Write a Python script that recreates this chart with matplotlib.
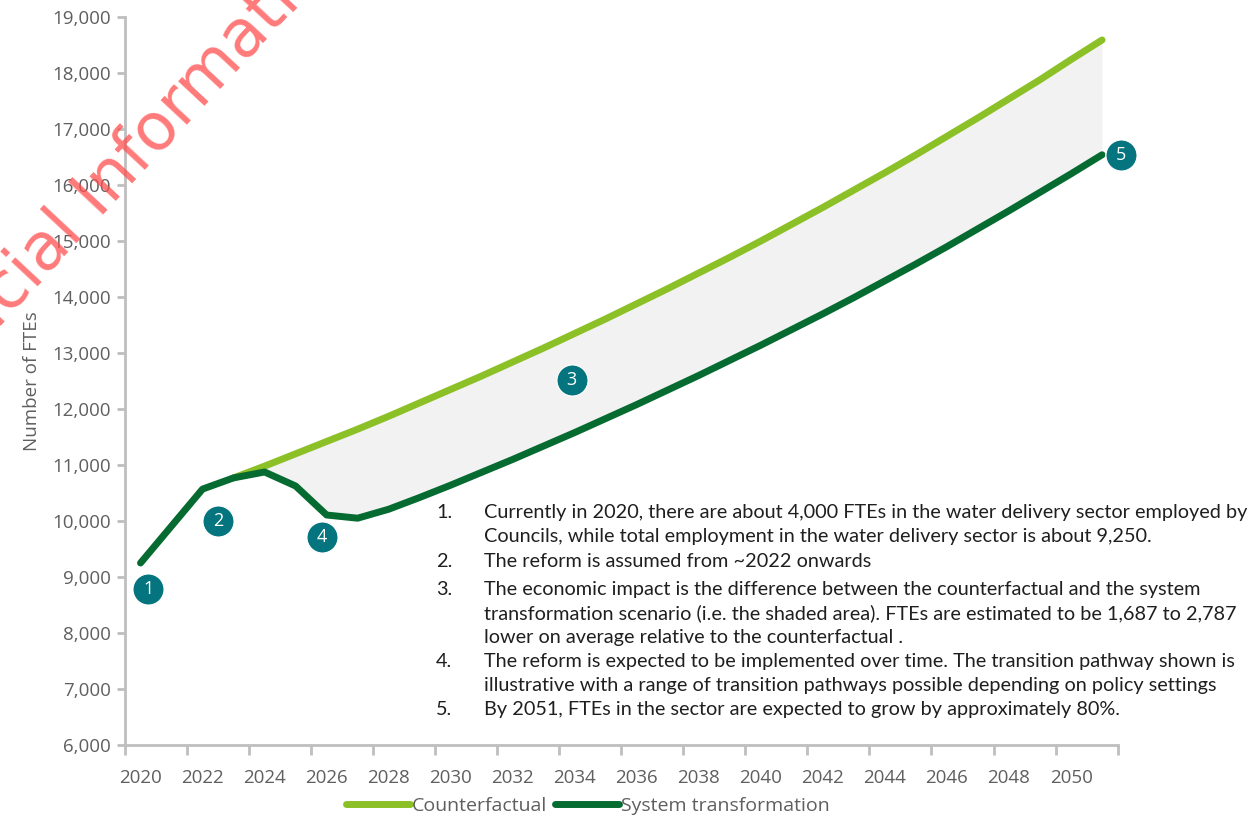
import numpy as np
import matplotlib
matplotlib.use("Agg")
from matplotlib import pyplot as plt
from matplotlib.ticker import FuncFormatter, FixedLocator

# --- data ---
sys_years = list(range(2020, 2052))
sys_fte = [9250, 9910, 10570, 10770, 10875, 10625, 10107, 10050, 10210,
           10420, 10640, 10870, 11100, 11340, 11580, 11830, 12080, 12340,
           12600, 12870, 13140, 13420, 13700, 13990, 14290, 14590, 14900,
           15220, 15540, 15870, 16200, 16540]

cf_years = list(range(2023, 2052))
cf_fte = [10770, 10980, 11200, 11420, 11640, 11870, 12110, 12350, 12590,
          12840, 13090, 13350, 13610, 13880, 14150, 14430, 14710, 15000,
          15300, 15600, 15910, 16220, 16540, 16870, 17200, 17540, 17880,
          18240, 18590]

marker_labels = ["1", "2", "3", "4", "5"]
marker_x = [2020.25, 2022.5, 2033.9, 2025.85, 2051.6]
marker_y = [8790, 10000, 12520, 9715, 16540]

note_nums = ["1.", "", "2.", "3.", "", "", "4.", "", "5."]
note_lines = [
    "Currently in 2020, there are about 4,000 FTEs in the water delivery sector employed by",
    "Councils, while total employment in the water delivery sector is about 9,250.",
    "The reform is assumed from ~2022 onwards",
    "The economic impact is the difference between the counterfactual and the system",
    "transformation scenario (i.e. the shaded area). FTEs are estimated to be 1,687 to 2,787",
    "lower on average relative to the counterfactual .",
    "The reform is expected to be implemented over time. The transition pathway shown is",
    "illustrative with a range of transition pathways possible depending on policy settings",
    "By 2051, FTEs in the sector are expected to grow by approximately 80%.",
]
note_px_y = [518, 542, 567, 595, 619, 643, 667, 691, 715]  # baselines

LIGHT = "#8CC027"
DARK = "#066B30"
TEAL = "#04757E"
GREY = "#5F5F5F"
SPINE = "#BFBFBF"

W, H = 1259, 816
plt.rcParams["font.family"] = ["Open Sans", "DejaVu Sans"]
fig = plt.figure(figsize=(W / 100, H / 100), dpi=100)
ax = fig.add_axes([125 / W, 1 - 745 / H, (1117.6 - 125) / W, (745 - 17) / H])

# shaded gap between the scenarios
sys_on_cf = [sys_fte[sys_years.index(y)] for y in cf_years]
ax.fill_between(cf_years, sys_on_cf, cf_fte, color="#F2F2F2", lw=0, zorder=1)

ax.plot(cf_years, cf_fte, color=LIGHT, lw=5, solid_capstyle="round",
        solid_joinstyle="round", label="Counterfactual", zorder=3)
ax.plot(sys_years, sys_fte, color=DARK, lw=5, solid_capstyle="round",
        solid_joinstyle="round", label="System transformation", zorder=4)

ax.scatter(marker_x, marker_y, s=500, color=TEAL, zorder=6, clip_on=False,
           edgecolors="white", linewidths=0.8)
for lab, mx, my in zip(marker_labels, marker_x, marker_y):
    ax.text(mx, my, lab, color="white", fontsize=13, ha="center",
            va="center", zorder=7, clip_on=False)

ax.set_xlim(2019.5, 2051.5)
ax.set_ylim(6000, 19000)

ax.set_yticks(np.arange(6000, 19001, 1000))
ax.yaxis.set_major_formatter(FuncFormatter(lambda v, p: f"{int(v):,}"))
ax.tick_params(axis="y", colors=SPINE, labelcolor=GREY, labelsize=13.5,
               length=6, width=2, pad=4)

ax.xaxis.set_major_locator(FixedLocator(range(2020, 2051, 2)))
ax.xaxis.set_minor_locator(FixedLocator(np.arange(2019.5, 2052, 2)))
ax.tick_params(axis="x", which="major", length=0, labelcolor=GREY,
               labelsize=13.5, pad=17)
ax.tick_params(axis="x", which="minor", length=7, width=2, color=SPINE)

for s in ["top", "right"]:
    ax.spines[s].set_visible(False)
for s in ["left", "bottom"]:
    ax.spines[s].set_color(SPINE)
    ax.spines[s].set_linewidth(2)

ax.set_ylabel("Number of FTEs", color=GREY, fontsize=13.5, labelpad=8)

fig.legend(loc="lower center", bbox_to_anchor=(588 / W, -0.02), ncol=2,
           frameon=False, fontsize=14, handlelength=3.3, handletextpad=0.1,
           columnspacing=0.4, labelcolor=GREY)

for num, line, py in zip(note_nums, note_lines, note_px_y):
    fig.text(436 / W, 1 - py / H, num, fontsize=14.3, color="#1F1F1F",
             va="baseline", family=["Lato", "DejaVu Sans"])
    fig.text(484 / W, 1 - py / H, line, fontsize=14.3, color="#1F1F1F",
             va="baseline", family=["Lato", "DejaVu Sans"])

# watermark, cut by the figure edge as in the source
fig.text(-70 / W, 1 - 400 / H, "Official Information Act", fontsize=47,
         color="#FF4D4D", alpha=0.75, rotation=47, rotation_mode="anchor",
         ha="left", va="baseline", family="DejaVu Sans")

fig.savefig("out.png", dpi=100)
